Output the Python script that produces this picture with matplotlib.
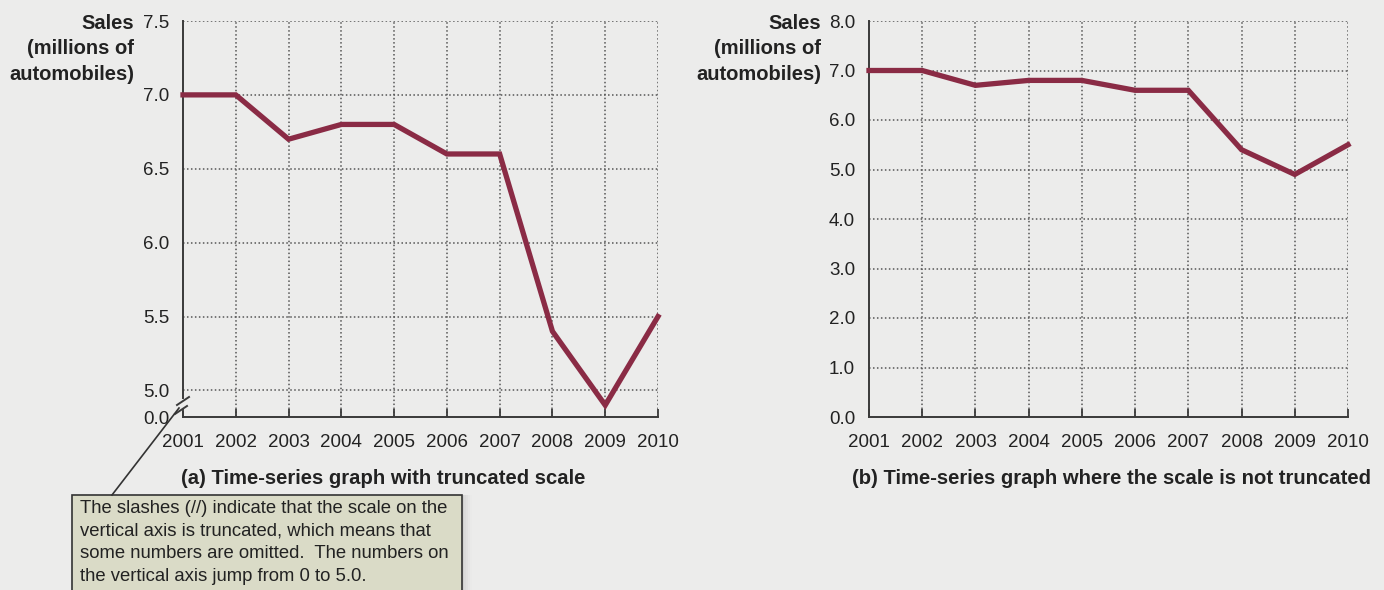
import matplotlib.pyplot as plt
from matplotlib.patches import Rectangle
from matplotlib.lines import Line2D

plt.rcParams['font.family'] = ['Liberation Sans', 'DejaVu Sans']

years = [2001, 2002, 2003, 2004, 2005, 2006, 2007, 2008, 2009, 2010]
sales = [7.0, 7.0, 6.7, 6.8, 6.8, 6.6, 6.6, 5.4, 4.9, 5.5]

ticks_a = [5.0, 5.5, 6.0, 6.5, 7.0, 7.5]
ticks_b = [0.0, 1.0, 2.0, 3.0, 4.0, 5.0, 6.0, 7.0, 8.0]
ylabel = 'Sales\n(millions of\nautomobiles)'
title_a = '(a) Time-series graph with truncated scale'
title_b = '(b) Time-series graph where the scale is not truncated'
note = ('The slashes (//) indicate that the scale on the\n'
        'vertical axis is truncated, which means that\n'
        'some numbers are omitted.  The numbers on\n'
        'the vertical axis jump from 0 to 5.0.')

W, H = 1384, 590
BG = '#ececeb'
LINE = '#8a2b45'
INK = '#3a3a3a'
TXT = '#222222'


def px(x, y):
    # pixel position -> figure fraction
    return x / W, 1 - y / H


fig = plt.figure(figsize=(W / 100, H / 100), dpi=100, facecolor=BG)
ax_a = fig.add_axes([183 / W, 1 - 417 / H, 475 / W, 396 / H])
ax_b = fig.add_axes([869 / W, 1 - 417 / H, 479 / W, 396 / H])

grid_kw = dict(color='#555555', linewidth=1.1, linestyle=(0, (1, 1.6)))

for ax in (ax_a, ax_b):
    ax.set_facecolor('none')
    ax.plot(years, sales, color=LINE, linewidth=3.8, solid_joinstyle='miter',
            zorder=5, clip_on=False)
    ax.set_xlim(years[0], years[-1])
    ax.set_xticks(years)
    ax.tick_params(axis='x', direction='in', length=6, width=1.3, color=INK,
                   pad=12.5, labelsize=13.5, labelcolor=TXT)
    ax.tick_params(axis='y', length=0, pad=10, labelsize=13.5,
                   labelcolor=TXT)
    ax.spines['right'].set_visible(False)
    ax.spines['top'].set_visible(False)
    for s in ('left', 'bottom'):
        ax.spines[s].set_color(INK)
        ax.spines[s].set_linewidth(1.4)

# panel (a): truncated scale, bottom of axis stands for zero
ymin_a = 4.82
ax_a.set_ylim(ymin_a, 7.5)
ax_a.set_yticks([ymin_a] + ticks_a)
ax_a.set_yticklabels(['0.0'] + ['%.1f' % t for t in ticks_a])
for t in ticks_a:
    ax_a.axhline(t, **grid_kw, zorder=1)
for x in years[1:]:
    ax_a.plot([x, x], [ymin_a, 7.5], **grid_kw, zorder=1)
ax_a.spines['left'].set_bounds(4.95, 7.5)
ax_a.plot([years[0], years[0]], [ymin_a, 4.855], color=INK, linewidth=1.4,
          clip_on=False, zorder=4)

# panel (b): full scale
ax_b.set_ylim(0, 8.0)
ax_b.set_yticks(ticks_b)
ax_b.set_yticklabels(['%.1f' % t for t in ticks_b])
for t in ticks_b[1:]:
    ax_b.axhline(t, **grid_kw, zorder=1)
for x in years[1:]:
    ax_b.plot([x, x], [0, 8.0], **grid_kw, zorder=1)

# axis labels and panel titles
for xr in (134, 821):
    fig.text(*px(xr, 14), ylabel, ha='right', va='top', ma='right',
             fontsize=14.5, fontweight='bold', color=TXT, linespacing=1.42)
fig.text(*px(181, 479), title_a, ha='left', va='center', fontsize=14.6,
         fontweight='bold', color=TXT)
fig.text(*px(1111, 479), title_b, ha='center', va='center', fontsize=14.6,
         fontweight='bold', color=TXT)

# break slashes on the vertical axis
for xc, yc in ((183, 401), (181, 410)):
    x0, y0 = px(xc - 6, yc + 4)
    x1, y1 = px(xc + 6, yc - 4)
    fig.add_artist(Line2D([x0, x1], [y0, y1], color=INK, linewidth=1.4))

# note box with soft shadow and leader line
for i, a in enumerate([0.06, 0.045, 0.03, 0.02, 0.012]):
    sx, sy = px(72 + 2 * (i + 1), 610)
    fig.add_artist(Rectangle((sx, sy), 390 / W, 115 / H,
                             transform=fig.transFigure, facecolor='#4a4a4a',
                             edgecolor='none', alpha=a))
bx, by = px(72, 610)
fig.add_artist(Rectangle((bx, by), 390 / W, 115 / H,
                         transform=fig.transFigure, facecolor='#dadbc7',
                         edgecolor='#333333', linewidth=1.2))
fig.text(*px(80, 500), note, ha='left', va='top', fontsize=13.3,
         color=TXT, linespacing=1.44)
lx0, ly0 = px(112, 495)
lx1, ly1 = px(179, 408)
fig.add_artist(Line2D([lx0, lx1], [ly0, ly1], color='#333333', linewidth=1.2))

fig.savefig('out.png', dpi=100, facecolor=BG)
